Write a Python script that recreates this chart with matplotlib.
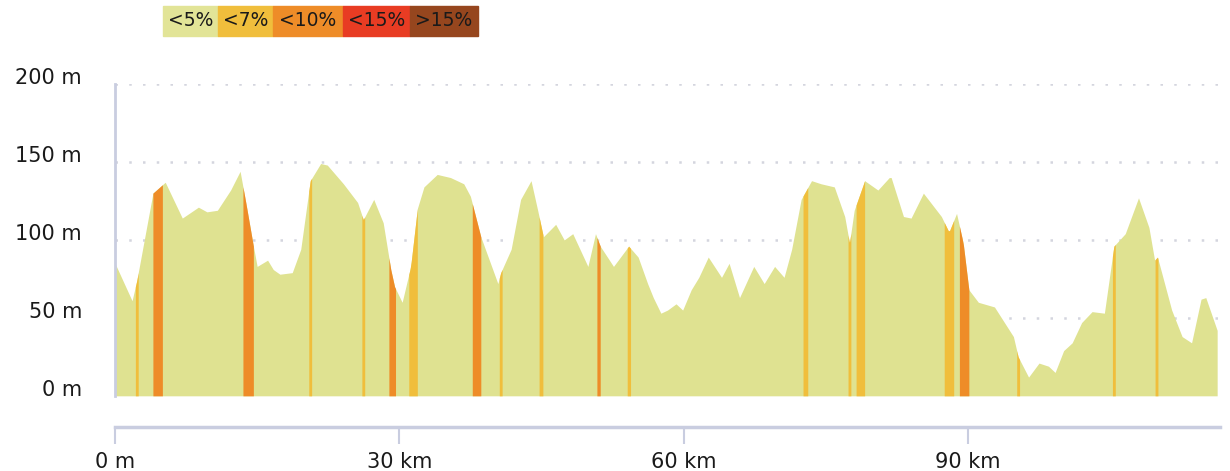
import matplotlib
matplotlib.use('Agg')
import matplotlib.pyplot as plt
import matplotlib.transforms as mtransforms
import numpy as np

# elevation profile (km, m)
dist = [0.0, 1.8, 2.3, 4.0, 5.3, 7.1, 8.8, 9.7, 10.8, 12.2, 13.2, 13.8, 14.6, 15.0,
        16.1, 16.7, 17.4, 18.7, 19.6, 20.6, 21.7, 22.4, 24.1, 25.6, 26.2, 27.3,
        28.3, 29.1, 29.5, 30.3, 31.2, 31.9, 32.6, 34.0, 35.4, 36.8, 37.5, 38.6,
        40.4, 40.7, 41.8, 42.8, 43.9, 44.6, 45.2, 46.5, 47.4, 48.3, 49.9, 50.7,
        51.2, 52.6, 54.2, 55.2, 56.2, 56.8, 57.6, 58.3, 59.2, 59.9, 60.8, 61.6,
        62.6, 64.0, 64.8, 65.9, 67.4, 68.5, 69.6, 70.6, 71.4, 72.4, 73.5, 74.5,
        75.9, 77.0, 77.5, 78.0, 79.1, 80.5, 81.7, 81.9, 83.2, 84.0, 85.3, 87.2,
        88.0, 88.8, 89.5, 90.1, 91.1, 92.8, 94.8, 95.3, 96.4, 97.5, 98.5, 99.2,
        100.1, 101.0, 102.0, 103.1, 104.4, 105.4, 106.6, 108.0, 109.1, 109.7,
        110.0, 111.5, 112.6, 113.6, 114.6, 115.1, 116.3]
elev = [85, 61, 74, 130, 137, 114, 121, 118, 119, 132, 144, 124, 96, 83,
        87, 81, 78, 79, 94, 138, 149, 148, 136, 124, 113, 126,
        111, 81, 70, 60, 83, 120, 134, 142, 140, 136, 128, 102,
        72, 79, 94, 126, 138, 119, 102, 110, 100, 104, 83, 104,
        96, 83, 96, 89, 72, 63, 53, 55, 59, 55, 68, 76,
        89, 76, 85, 63, 83, 72, 83, 76, 94, 126, 138, 136,
        134, 115, 98, 119, 138, 132, 140, 140, 115, 114, 130, 115,
        105, 117, 98, 68, 60, 57, 38, 25, 12, 21, 19, 15,
        29, 34, 47, 54, 53, 96, 104, 127, 108, 87,
        89, 55, 38, 34, 62, 63, 42]

# steep sections: start km, end km, gradient class
steep_start = [2.15, 4.0, 13.5, 20.45, 26.05, 28.9, 31.0, 37.7, 40.55, 44.75,
               50.85, 54.05, 72.6, 77.35, 78.2, 87.5, 89.1, 95.15, 105.25, 109.75]
steep_end = [2.45, 5.0, 14.6, 20.75, 26.35, 29.6, 31.9, 38.6, 40.85, 45.15,
             51.2, 54.4, 73.1, 77.65, 79.1, 88.5, 90.1, 95.45, 105.55, 110.05]
steep_class = [1, 2, 2, 1, 1, 2, 1, 2, 1, 1,
               2, 1, 1, 1, 1, 1, 2, 1, 1, 1]

legend_labels = ['<5%', '<7%', '<10%', '<15%', '>15%']
legend_colors = ['#e2e497', '#f0be3c', '#ee8c28', '#e83c23', '#96461e']

y_ticks = [0, 50, 100, 150, 200]
y_labels = ['0 m', '50 m', '100 m', '150 m', '200 m']
x_ticks = [0, 30, 60, 90]
x_labels = ['0 m', '30 km', '60 km', '90 km']

axis_col = '#c9cde0'
fill_col = '#dfe291'
text_col = '#1a1a1a'

fig = plt.figure(figsize=(12.3, 4.71), dpi=100)
ax = fig.add_axes([115/1230, 44/471, 1105/1230, 343/471])

ax.fill_between(dist, 0, elev, color=fill_col, linewidth=0)

for s, e, c in zip(steep_start, steep_end, steep_class):
    xs = np.linspace(s, e, 8)
    ys = np.interp(xs, dist, elev)
    ax.fill_between(xs, 0, ys, color=legend_colors[c], linewidth=0)

ax.set_xlim(0, 116.6)
ax.set_ylim(-20, 200)

for v in y_ticks[1:]:
    ax.axhline(v, color='#d4d5de', linestyle=(0, (1, 4.5)), linewidth=1.8, zorder=0)

for side in ['top', 'right']:
    ax.spines[side].set_visible(False)
ax.spines['left'].set_bounds(0, 200)
ax.spines['left'].set_color(axis_col)
ax.spines['left'].set_linewidth(2)
ax.spines['bottom'].set_color(axis_col)
ax.spines['bottom'].set_linewidth(2.5)

# y labels drawn as text, a little above their gridline
ax.set_yticks([])
ylab_tf = mtransforms.blended_transform_factory(ax.transAxes, ax.transData)
ylab_tf = ylab_tf + mtransforms.ScaledTranslation(-33/100, 6/100, fig.dpi_scale_trans)
for v, lab in zip(y_ticks, y_labels):
    ax.text(0, v, lab, transform=ylab_tf, ha='right', va='center',
            fontsize=15, color=text_col)

ax.set_xticks(x_ticks)
ax.set_xticklabels(x_labels)
ax.tick_params(axis='x', length=12, width=1.5, color=axis_col, pad=6,
               labelsize=15, labelcolor=text_col)

# legend boxes at the top
lx = [163, 218, 273, 343, 410]
lw = [55, 55, 70, 67, 68]
for x0, w, col, lab in zip(lx, lw, legend_colors, legend_labels):
    fig.patches.append(plt.Rectangle((x0/1230, (471-36)/471), w/1230, 30/471,
                                     transform=fig.transFigure, color=col, zorder=1))
    fig.text((x0 + w/2)/1230, (471-21)/471, lab, ha='center', va='center',
             fontsize=13.5, color=text_col)

fig.savefig('out.png', dpi=100)
